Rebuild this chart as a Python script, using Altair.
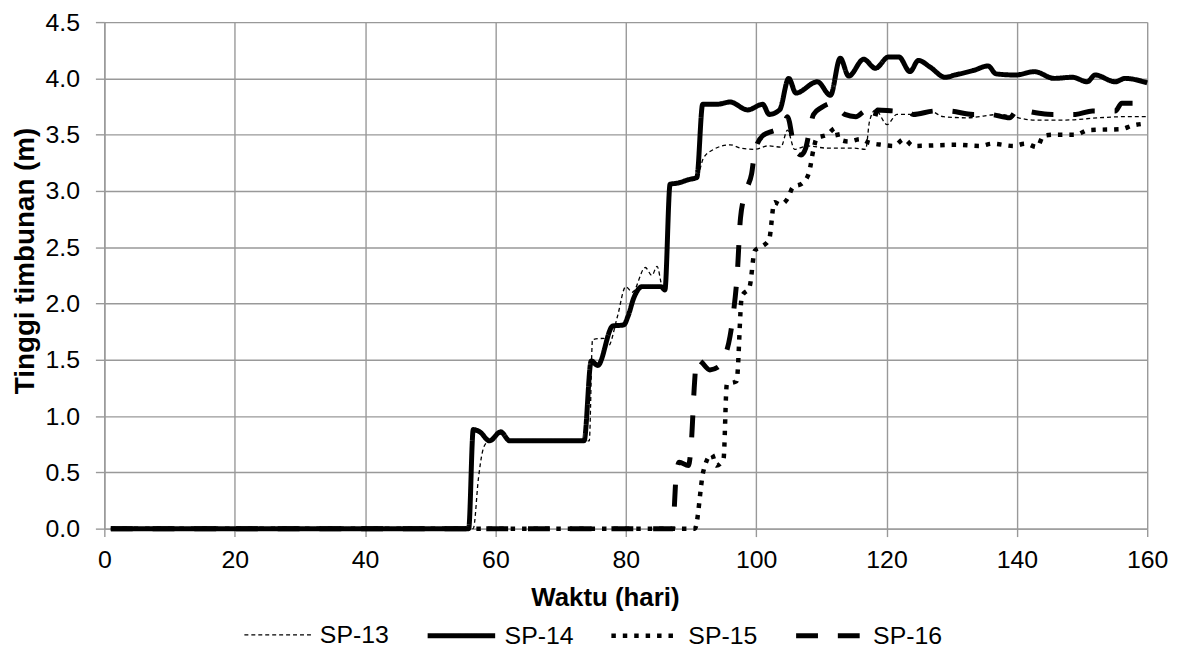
import altair as alt
import pandas as pd

# ---- data ----
series = ["SP-13", "SP-14", "SP-15", "SP-16"]

sp13_day = [1, 56.6, 57.4, 58.0, 58.7, 59.6, 60.8, 62.2, 73.6, 74.4,
            74.9, 76.6, 77.3, 78.7, 80.0, 81.0, 83.0, 84.0, 84.8, 85.6,
            86.1, 86.9, 88.0, 89.5, 90.9, 91.9, 93.2, 96.0, 97.7, 99.8,
            101.8, 103.8, 104.8, 105.9, 107.9, 110.9, 115.0, 116.8, 117.4, 118.3,
            120.1, 121.6, 124.6, 126.7, 128.7, 132.3, 137.4, 139.4, 142.4, 147.5,
            152.6, 156.6, 160]
sp13_val = [0, 0, 0.45, 0.68, 0.77, 0.80, 0.84, 0.78, 0.78, 0.78,
            1.68, 1.69, 1.62, 1.88, 2.15, 2.10, 2.32, 2.25, 2.33, 2.15,
            2.13, 3.06, 3.07, 3.10, 3.12, 3.29, 3.36, 3.41, 3.38, 3.37,
            3.40, 3.39, 3.54, 3.37, 3.40, 3.38, 3.38, 3.37, 3.62, 3.72,
            3.59, 3.68, 3.68, 3.71, 3.66, 3.65, 3.68, 3.66, 3.63, 3.63,
            3.65, 3.66, 3.66]

sp14_day = [1, 55.9, 56.6, 57.6, 59.1, 60.8, 62.2, 73.6, 74.7, 75.7,
            78.0, 79.7, 80.3, 81.3, 82.5, 85.4, 86.0, 86.8, 88.0, 89.6,
            90.9, 91.8, 94.0, 96.0, 98.7, 101.0, 102.0, 103.6, 105.0, 106.1,
            109.4, 111.4, 112.9, 114.2, 116.5, 118.3, 120.3, 121.9, 123.6, 124.9,
            126.7, 129.0, 130.5, 133.3, 135.6, 136.8, 139.8, 142.7, 145.7, 148.5,
            150.8, 152.0, 155.1, 156.6, 160]
sp14_val = [0, 0, 0.88, 0.86, 0.78, 0.86, 0.78, 0.78, 1.49, 1.45,
            1.80, 1.81, 1.88, 2.06, 2.15, 2.15, 2.12, 3.06, 3.07, 3.10,
            3.12, 3.77, 3.77, 3.79, 3.72, 3.77, 3.68, 3.72, 4.00, 3.87,
            3.97, 3.85, 4.18, 4.02, 4.17, 4.09, 4.19, 4.19, 4.06, 4.16,
            4.10, 4.01, 4.03, 4.07, 4.11, 4.04, 4.03, 4.06, 4.00, 4.01,
            3.97, 4.03, 3.97, 4.00, 3.96]

sp15_day = [1, 90.6, 91.9, 93.2, 93.9, 95.0, 95.5, 97.0, 97.8, 99.0,
            99.8, 101.0, 102.0, 102.8, 103.7, 104.9, 105.6, 107.1, 108.1, 108.8,
            109.3, 110.9, 112.2, 112.7, 114.2, 116.0, 117.3, 119.3, 121.1, 122.7,
            124.1, 130.7, 134.4, 136.2, 139.5, 141.3, 143.1, 144.1, 145.9, 149.1,
            150.9, 156.1, 157.7, 160]
sp15_val = [0, 0, 0.51, 0.66, 0.56, 0.62, 1.28, 1.31, 2.06, 2.15,
            2.47, 2.51, 2.57, 2.90, 2.88, 2.94, 3.03, 3.07, 3.16, 3.37,
            3.47, 3.50, 3.56, 3.46, 3.44, 3.46, 3.43, 3.41, 3.40, 3.46,
            3.40, 3.41, 3.40, 3.42, 3.40, 3.42, 3.39, 3.49, 3.50, 3.50,
            3.54, 3.55, 3.58, 3.60]

sp16_day = [1, 87.2, 87.7, 88.2, 89.6, 90.1, 90.5, 90.9, 91.6, 92.9,
            94.5, 95.2, 96.0, 96.5, 97.1, 97.6, 98.5, 99.3, 99.8, 101.0,
            102.5, 104.1, 104.8, 105.9, 106.9, 107.6, 108.1, 108.8, 110.0, 111.7,
            113.6, 115.3, 116.8, 118.0, 118.6, 121.6, 122.9, 124.1, 127.4, 129.5,
            133.3, 135.8, 138.9, 140.1, 143.4, 145.5, 149.0, 151.6, 155.1, 156.1,
            158.0]
sp16_val = [0, 0, 0.45, 0.59, 0.56, 0.80, 1.25, 1.51, 1.48, 1.41,
            1.45, 1.53, 1.71, 1.91, 2.26, 2.76, 3.01, 3.15, 3.35, 3.49,
            3.53, 3.56, 3.66, 3.38, 3.32, 3.38, 3.51, 3.68, 3.74, 3.78,
            3.68, 3.66, 3.71, 3.63, 3.72, 3.71, 3.72, 3.68, 3.71, 3.71,
            3.68, 3.68, 3.65, 3.72, 3.69, 3.68, 3.68, 3.71, 3.71, 3.78,
            3.78]

x_ticks = [0, 20, 40, 60, 80, 100, 120, 140, 160]
y_ticks = [0, 0.5, 1.0, 1.5, 2.0, 2.5, 3.0, 3.5, 4.0, 4.5]

rows = []
for name, days, vals in [("SP-13", sp13_day, sp13_val), ("SP-14", sp14_day, sp14_val),
                         ("SP-15", sp15_day, sp15_val), ("SP-16", sp16_day, sp16_val)]:
    for d, v in zip(days, vals):
        rows.append({"series": name, "day": d, "value": v})
df = pd.DataFrame(rows)

FONT = "Liberation Sans"
GRID = "#999999"
dash_range = [[4, 3], [1, 0], [4.5, 7], [22, 20]]
width_range = [1.3, 5, 4.5, 5]

legend = alt.Legend(
    orient="none", legendX=140, legendY=581, direction="horizontal", title=None,
    symbolType="stroke", symbolSize=4624, symbolStrokeColor="black",
    labelFont=FONT, labelFontSize=25, labelColor="black", labelOffset=7,
    columnPadding=28, padding=0,
)

chart = alt.Chart(df).mark_line(
    interpolate="monotone", strokeCap="butt", strokeJoin="round", color="black"
).encode(
    x=alt.X("day:Q", scale=alt.Scale(domain=[0, 160], nice=False, zero=False),
            axis=alt.Axis(values=x_ticks, title="Waktu (hari)", labelFlush=False,
                          labelOverlap=False, tickSize=8, labelPadding=11,
                          titleFontSize=26,
                          titleX=504, titleY=77, titleAlign="center",
                          titleBaseline="alphabetic")),
    y=alt.Y("value:Q", scale=alt.Scale(domain=[0, 4.5], nice=False),
            axis=alt.Axis(values=y_ticks, format=".1f", title="Tinggi timbunan (m)",
                          tickSize=9, labelPadding=16, labelOverlap=False,
                          titleFontSize=28,
                          titleAngle=270, titleX=-71, titleY=240, titleAlign="center",
                          titleBaseline="alphabetic")),
    strokeDash=alt.StrokeDash("series:N", scale=alt.Scale(domain=series, range=dash_range),
                              legend=legend),
    strokeWidth=alt.StrokeWidth("series:N",
                                scale=alt.Scale(type="ordinal", domain=series, range=width_range),
                                legend=legend),
    order=alt.Order("day:Q"),
).properties(
    width=1050, height=510, autosize="none",
    padding={"left": 97, "top": 12, "right": 32, "bottom": 122},
).configure(background="white").configure_view(stroke=None).configure_axis(
    gridColor=GRID, gridWidth=1.4, domainColor=GRID, domainWidth=1.4,
    tickColor=GRID, tickWidth=1.4,
    labelFont=FONT, labelFontSize=25, labelColor="black",
    titleFont=FONT, titleFontWeight="bold", titleColor="black",
)

chart.save("out.html", embed_options={"renderer": "svg", "actions": False})
